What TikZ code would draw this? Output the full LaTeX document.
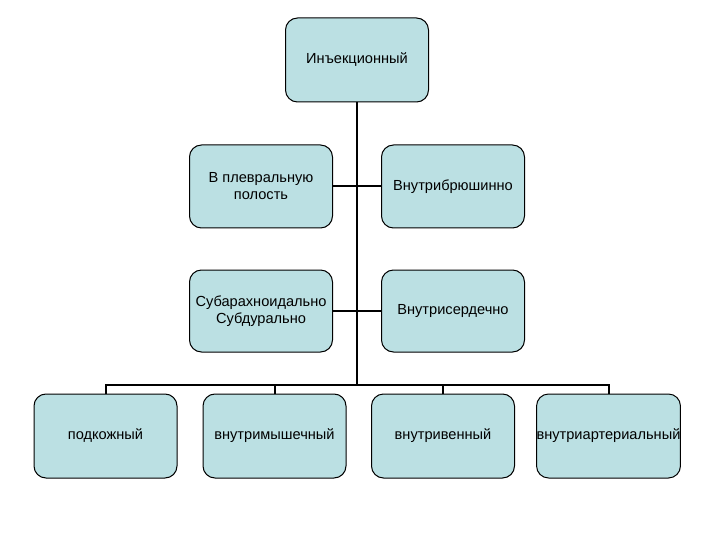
\documentclass[tikz,border=0pt]{standalone}
\usepackage{fontspec}
\setmainfont{Liberation Sans}
\definecolor{boxfill}{RGB}{187,224,227}
\begin{document}
\begin{tikzpicture}[x=1pt,y=-1pt,
  box/.style={draw=black, line width=1pt, fill=boxfill, rounded corners=12pt,
    minimum width=143pt, minimum height=84pt, inner sep=0pt, align=center,
    font=\fontsize{14.6}{17}\selectfont},
  conn/.style={draw=black, line width=2pt}]
\useasboundingbox (0,0) rectangle (720,540);
\node[box] (top) at (357,60) {Инъекционный};
\node[box, minimum height=83pt] (l1) at (261,186.5) {В плевральную\\полость};
\node[box, minimum height=83pt] (r1) at (453,186.5) {Внутрибрюшинно};
\node[box, minimum height=82pt] (l2) at (261,311) {Субарахноидально\\Субдурально};
\node[box, minimum height=82pt] (r2) at (453,311) {Внутрисердечно};
\node[box] (b1) at (105.5,436) {подкожный};
\node[box] (b2) at (274.5,436) {внутримышечный};
\node[box] (b3) at (443,436) {внутривенный};
\node[box] (b4) at (608.5,436) {внутриартериальный};
\coordinate (bar) at (357,385);
\draw[conn] (top.south) -- (bar);
\draw[conn] (l1.east) -- (r1.west);
\draw[conn] (l2.east) -- (r2.west);
\draw[conn] (b1.north) |- (b4.north |- bar) -- (b4.north);
\draw[conn] (b2.north) -- (b2.north |- bar);
\draw[conn] (b3.north) -- (b3.north |- bar);
\end{tikzpicture}
\end{document}
